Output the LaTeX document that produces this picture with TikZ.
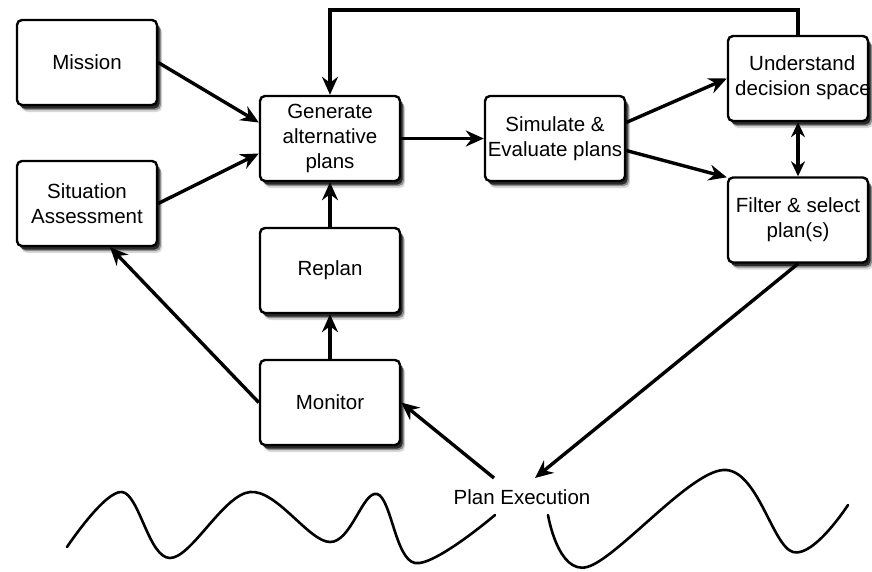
\documentclass[tikz,border=0pt]{standalone}
\usepackage{fontspec}
\setmainfont{Liberation Sans}
\usetikzlibrary{arrows.meta,shadows}
\begin{document}
\begin{tikzpicture}[x=1pt,y=-1pt,
  box/.style={draw, line width=2.4pt, rounded corners=5pt, fill=white,
    minimum width=140pt, minimum height=85pt, align=center, inner sep=0pt,
    font=\fontsize{20.5}{25}\selectfont,
    drop shadow={shadow xshift=5pt, shadow yshift=-7pt, opacity=0.15, fill=black},
    drop shadow={shadow xshift=4pt, shadow yshift=-5pt, opacity=0.35, fill=black},
    drop shadow={shadow xshift=2.5pt, shadow yshift=-3.5pt, opacity=0.7, fill=black}},
  lbl/.style={font=\fontsize{20.5}{25}\selectfont, inner sep=1pt},
  conn/.style={line width=3.4pt, -{Stealth[length=18pt,width=16pt,inset=6pt]}},
  dconn/.style={line width=3.4pt, {Stealth[length=15pt,width=14pt,inset=5pt]}-{Stealth[length=15pt,width=14pt,inset=5pt]}},
  wave/.style={line width=2.6pt, line cap=round}]
\useasboundingbox (0,0) rectangle (872,571);
\fill[white] (0,0) rectangle (872,571);

\node[box] (mission) at (87,62.5) {Mission};
\node[box] (situation) at (87,203.5) {Situation\\Assessment};
\node[box] (generate) at (330,138.5) {Generate\\alternative\\plans};
\node[box] (replan) at (330,270.5) {Replan};
\node[box] (monitor) at (330,402.5) {Monitor};
\node[box] (simulate) at (555,138.5) {Simulate \&\\Evaluate plans};
\node[box] (understand) at (798,78.5) {};
\node[lbl, anchor=west, align=left] (undtext) at (734,78) {\hspace*{14pt}Understand\\decision space};
\node[box] (filter) at (798,220) {Filter \& select\\plan(s)};
\node[lbl] (pe) at (522,497) {Plan Execution};

\coordinate (peR) at (535,478);
\coordinate (peL) at (494,478);

\draw[conn] (mission.east) -- ([yshift=16pt]generate.west);
\draw[conn] (situation.east) -- ([yshift=-15pt]generate.west);
\draw[conn] (generate.east) -- (simulate.west);
\draw[conn] (understand.north) -- ++(0,-25) -| (generate.north);
\draw[conn] (replan.north) -- (generate.south);
\draw[conn] (monitor.north) -- (replan.south);
\draw[conn] ([yshift=16pt]simulate.east) -- (understand.west);
\draw[conn] ([yshift=-12pt]simulate.east) -- ([yshift=-1pt]filter.north west);
\draw[dconn] (understand.south) -- (filter.north);
\draw[conn] (filter.south) -- (peR);
\draw[conn] (peL) -- (monitor.east);
\draw[conn] (monitor.west) -- ([xshift=23pt]situation.south);

\draw[wave] plot[smooth, tension=0.6] coordinates {(67,547) (122,492) (170,558) (250,492) (330,542) (377,494) (415,563) (495,515)};
\draw[wave] plot[smooth, tension=0.6] coordinates {(548,515) (587,567) (723,470) (793,552) (848,505)};
\end{tikzpicture}
\end{document}
